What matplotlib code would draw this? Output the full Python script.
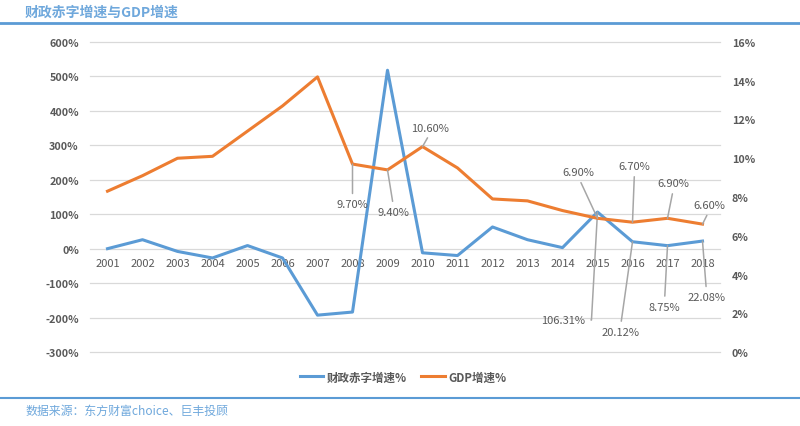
import matplotlib
matplotlib.use("Agg")
import matplotlib.pyplot as plt
from matplotlib.lines import Line2D

plt.rcParams['font.family'] = ['Noto Sans CJK SC', 'DejaVu Sans']

years = ['2001', '2002', '2003', '2004', '2005', '2006', '2007', '2008', '2009',
         '2010', '2011', '2012', '2013', '2014', '2015', '2016', '2017', '2018']
deficit_growth = [0, 26, -8, -27, 9, -27, -193, -184, 518,
                  -12, -20, 63, 26, 3, 106.31, 20.12, 8.75, 22.08]
gdp_growth = [8.3, 9.1, 10.0, 10.1, 11.4, 12.7, 14.2, 9.7, 9.4,
              10.6, 9.5, 7.9, 7.8, 7.3, 6.9, 6.7, 6.9, 6.6]
left_ticks = [-300, -200, -100, 0, 100, 200, 300, 400, 500, 600]
right_ticks = [0, 2, 4, 6, 8, 10, 12, 14, 16]

# labelled points: (index, pixel offset of label centre)
gdp_label_idx = [7, 8, 9, 14, 15, 16, 17]
gdp_label_off = [(0, -40), (6, -42), (8, 19), (-19, 46), (2, 56), (6, 35), (7, 19)]
def_label_idx = [14, 15, 16, 17]
def_label_off = [(-34, -108), (-12, -90), (-3, -61), (4, -56)]

BLUE = '#5B9BD5'
ORANGE = '#ED7D31'
TXT = '#595959'
GRID = '#D9D9D9'
LEAD = '#A6A6A6'

fig = plt.figure(figsize=(8, 4.27), dpi=100)
ax = fig.add_axes([90 / 800, 1 - 353 / 427, 630 / 800, 310 / 427])
ax2 = ax.twinx()

x = list(range(len(years)))
ax.plot(x, deficit_growth, color=BLUE, lw=2.2, solid_joinstyle='round', zorder=3)
ax2.plot(x, gdp_growth, color=ORANGE, lw=2.2, solid_joinstyle='round', zorder=3)

ax.set_xlim(-0.5, len(years) - 0.5)
ax.set_ylim(-300, 600)
ax2.set_ylim(0, 16)
ax.set_yticks(left_ticks)
ax.set_yticklabels([f'{t}%' for t in left_ticks])
ax2.set_yticks(right_ticks)
ax2.set_yticklabels([f'{t}%' for t in right_ticks])
ax.set_xticks(x)
ax.set_xticklabels(years)

ax.grid(axis='y', color=GRID, lw=0.9)
ax.set_axisbelow(True)
for gl in ax.get_ygridlines():
    gl.set_clip_on(False)
for a in (ax, ax2):
    for s in a.spines.values():
        s.set_visible(False)
ax.spines['bottom'].set_position(('data', 0))
ax.tick_params(axis='y', length=0, pad=8, labelsize=7.8, labelcolor=TXT)
ax2.tick_params(axis='y', length=0, pad=8.5, labelsize=7.8, labelcolor=TXT)
ax.tick_params(axis='x', length=0, pad=7, labelsize=8, labelcolor=TXT)
for lab in ax.get_yticklabels() + ax2.get_yticklabels():
    lab.set_fontweight('bold')


def label(a, xi, yv, text, off):
    rel = (0.5, 1.0) if off[1] < 0 else (0.5, 0.0)
    conn = 'arc3'
    if off[0] < -25:
        rel = (1.0, 0.5)
        conn = 'angle,angleA=0,angleB=86.8,rad=0'
    a.annotate(text, xy=(xi, yv), xycoords='data', xytext=off,
               textcoords='offset pixels', ha='center', va='center',
               fontsize=8, color=TXT, zorder=5,
               arrowprops=dict(arrowstyle='-', color=LEAD, lw=1.1,
                               shrinkA=2, shrinkB=0, relpos=rel,
                               connectionstyle=conn))


for i, off in zip(gdp_label_idx, gdp_label_off):
    label(ax2, i, gdp_growth[i], f'{gdp_growth[i]:.2f}%', off)
for i, off in zip(def_label_idx, def_label_off):
    label(ax, i, deficit_growth[i], f'{deficit_growth[i]:.2f}%', off)

# title, separators, footer
fig.text(25 / 800, 1 - 13 / 427, '财政赤字增速与GDP增速', fontsize=10, fontweight='bold',
         style='italic', color='#6FA8DC', ha='left', va='center')
fig.add_artist(Line2D([0, 1], [1 - 24 / 427] * 2, color=BLUE, lw=2))
fig.add_artist(Line2D([0, 1], [1 - 399 / 427] * 2, color=BLUE, lw=1.5))
fig.text(25 / 800, 1 - 411 / 427, '数据来源：东方财富choice、巨丰投顾', fontsize=8.6,
         style='italic', color='#6FA8DC', ha='left', va='center')

handles = [Line2D([], [], color=BLUE, lw=2.2), Line2D([], [], color=ORANGE, lw=2.2)]
leg = fig.legend(handles, ['财政赤字增速%', 'GDP增速%'], loc='center',
                 bbox_to_anchor=(403 / 800, 1 - 378 / 427), ncol=2, frameon=False,
                 fontsize=8.3, handlelength=2.0, handletextpad=0.3, columnspacing=1.3)
for t in leg.get_texts():
    t.set_color(TXT)
    t.set_fontweight('bold')

fig.savefig('out.png', dpi=100)
